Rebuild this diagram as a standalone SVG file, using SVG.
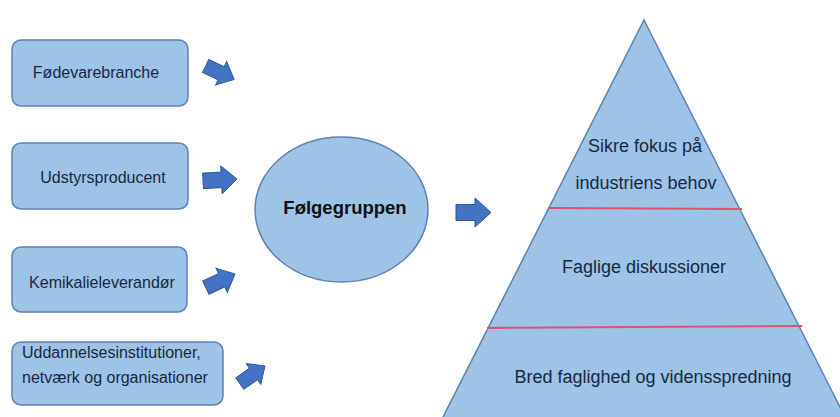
<svg xmlns="http://www.w3.org/2000/svg" xmlns:xlink="http://www.w3.org/1999/xlink" width="840" height="417" viewBox="0 0 840 417">
<style>
.box{fill:#9DC3E6;stroke:#5E82B3;stroke-width:1.5}
.lbl{font-family:"Liberation Sans",Arial,sans-serif;font-size:16px;fill:#1A2740}
.pt{font-family:"Liberation Sans",Arial,sans-serif;font-size:18px;fill:#1A2740;text-anchor:middle}
.arrow{fill:#4472C4;stroke:#2F5597;stroke-width:1}
.sep{stroke:#D9546E;stroke-width:2}
</style>
<defs>
<path id="arr" d="M-17,-8 L2,-8 L2,-14.5 L18,0 L2,14.5 L2,8 L-17,8 Z"/>
</defs>
<rect width="840" height="417" fill="#FFFFFF"/>
<g id="node-foedevare">
<rect class="box" x="12" y="40" width="176" height="66" rx="9"/>
<text class="lbl" x="96" y="78" text-anchor="middle">Fødevarebranche</text>
</g>
<g id="node-udstyr">
<rect class="box" x="12" y="143" width="176" height="66" rx="9"/>
<text class="lbl" x="103" y="183" text-anchor="middle">Udstyrsproducent</text>
</g>
<g id="node-kemi">
<rect class="box" x="12" y="247" width="175" height="65" rx="9"/>
<text class="lbl" x="102" y="288" text-anchor="middle">Kemikalieleverandør</text>
</g>
<g id="node-udd">
<rect class="box" x="12" y="342" width="211" height="63" rx="9"/>
<text class="lbl" x="22" y="358">Uddannelsesinstitutioner,</text>
<text class="lbl" x="22" y="383">netværk og organisationer</text>
</g>
<g id="node-foelge">
<ellipse cx="341.5" cy="209.5" rx="86.5" ry="72.5" fill="#9DC3E6" stroke="#5E82B3" stroke-width="1.5"/>
<text x="345" y="214" text-anchor="middle" font-family="Liberation Sans, Arial, sans-serif" font-size="18.5" font-weight="bold" fill="#111111">Følgegruppen</text>
</g>
<g id="node-pyramid">
<polygon points="644,20 848,423 440,423" fill="#9DC3E6" stroke="#5E82B3" stroke-width="1.5"/>
<line class="sep" x1="548" y1="208" x2="742" y2="209"/>
<line class="sep" x1="487" y1="328" x2="802" y2="326"/>
<text class="pt" x="645" y="152">Sikre fokus på</text>
<text class="pt" x="646" y="189">industriens behov</text>
<text class="pt" x="644" y="273">Faglige diskussioner</text>
<text class="pt" x="653" y="383">Bred faglighed og vidensspredning</text>
</g>
<g id="connectors">
<use xlink:href="#arr" class="arrow" transform="translate(219.5,72.5) rotate(25) scale(0.9)"/>
<use xlink:href="#arr" class="arrow" transform="translate(219.5,180) rotate(-3) scale(0.97)"/>
<use xlink:href="#arr" class="arrow" transform="translate(220,281) rotate(-25) scale(0.92)"/>
<use xlink:href="#arr" class="arrow" transform="translate(252,375) rotate(-35) scale(0.88)"/>
<use xlink:href="#arr" class="arrow" transform="translate(473,212.5)"/>
</g>
</svg>
